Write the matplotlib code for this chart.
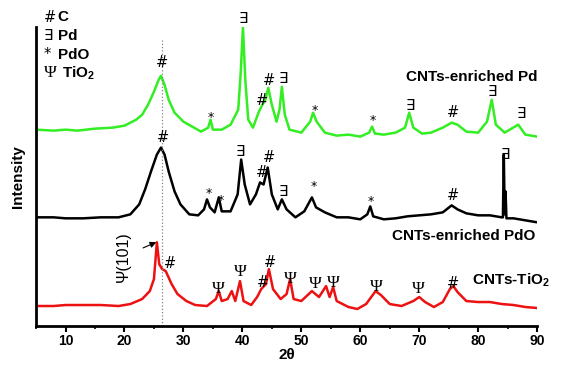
import numpy as np
import matplotlib
matplotlib.use('Agg')
import matplotlib.pyplot as plt

plt.rcParams['font.family'] = ['Liberation Sans', 'DejaVu Sans']
plt.rcParams['mathtext.fontset'] = 'custom'
plt.rcParams['mathtext.rm'] = 'Liberation Sans'
plt.rcParams['mathtext.bf'] = 'Liberation Sans:bold'

# XRD traces (2theta, stacked intensity in a.u.)
pd_x = [5, 8, 10, 12, 15, 18, 20, 22, 23, 24, 25, 25.8, 26.2, 26.8, 27.5, 28.5, 30, 31.5,
        33, 34.2, 34.6, 35, 36.5, 38, 39.3, 39.7, 40.1, 40.5, 41, 41.8, 42.8, 43.4, 43.9,
        44.4, 45, 45.8, 46.3, 46.7, 47.2, 48, 50, 51.5, 52, 52.6, 54, 56, 58, 60, 61.5, 62,
        62.5, 64, 66, 67.6, 68.3, 69, 70.5, 72, 74, 75.5, 76.5, 78, 80, 81.5, 82.3, 83,
        84.5, 86.8, 88, 90]
pd_y = [197, 196, 197, 196, 198, 199, 201, 207, 212, 222, 235, 247, 251, 242, 227, 214, 205,
        200, 195, 199, 207, 197, 197, 202, 217, 252, 300, 247, 207, 199, 215, 222, 227, 239,
        222, 205, 217, 240, 212, 197, 194, 205, 214, 205, 194, 191, 192, 190, 194, 200, 193,
        192, 194, 199, 214, 199, 193, 194, 199, 204, 202, 195, 194, 205, 227, 202, 194, 202,
        192, 190]

pdo_x = [5, 8, 10, 13, 16, 19, 21, 22.5, 23.5, 24.5, 25.5, 26.2, 26.8, 27.5, 28.5, 29.5, 31,
         32.5, 33.5, 34, 34.5, 35.3, 36, 36.5, 38, 39.2, 39.8, 40.4, 41.3, 42.3, 43, 43.6,
         44.3, 45, 46, 46.7, 47.5, 49, 50.5, 51.8, 52.5, 54, 56, 58, 60, 61.2, 61.7, 62.2,
         64, 66, 68, 70, 72, 74, 75.5, 76.5, 78, 80, 82, 84, 84.2, 84.35, 84.5, 84.65, 84.8,
         86, 88, 90]
pdo_y = [109, 109, 108, 108, 109, 109, 112, 122, 137, 155, 172, 179, 172, 155, 135, 122, 112,
         111, 117, 127, 119, 114, 129, 115, 115, 132, 167, 142, 122, 132, 144, 142, 159, 132,
         117, 127, 117, 109, 115, 129, 119, 114, 109, 109, 107, 112, 120, 110, 107, 108, 110,
         111, 112, 114, 121, 117, 113, 111, 111, 109, 109, 172, 112, 135, 108, 108, 106, 104]

ti_x = [5, 8, 10, 13, 16, 19, 21, 23, 24.3, 25, 25.5, 25.9, 26.4, 27, 28, 29, 30.5, 32, 34,
        35.5, 36, 36.5, 37.5, 38.2, 38.8, 39.6, 40.2, 41.5, 42.5, 43.2, 44, 44.5, 45.2, 46.5,
        47.5, 48.1, 48.7, 50, 51.8, 53, 54.2, 54.8, 55.4, 56, 58, 59.5, 61, 62.6, 63.5, 65,
        67, 69, 70, 71, 72.5, 74, 75.2, 75.8, 76.5, 78, 80, 82, 84, 86, 88, 90]
ti_y = [20, 20, 21, 21, 21, 20, 22, 27, 35, 47, 84, 62, 57, 55, 42, 32, 25, 21, 20, 27, 35, 25,
        27, 35, 25, 45, 25, 21, 29, 37, 42, 57, 37, 27, 32, 47, 27, 25, 35, 29, 40, 29, 39, 25,
        19, 17, 22, 35, 31, 22, 20, 25, 29, 24, 19, 24, 37, 40, 34, 25, 24, 24, 22, 21, 19, 18]

# phase markers: (symbol, 2theta, height)
pd_marks = [('#', 26.3, 264), ('∃', 40.2, 309), ('#', 43.3, 226), ('#', 44.6, 246),
            ('∃', 47.0, 248), ('*', 34.6, 209), ('*', 52.3, 216), ('*', 62.1, 206),
            ('∃', 68.5, 221), ('#', 75.8, 214), ('∃', 82.4, 235), ('∃', 87.3, 213)]
pdo_marks = [('#', 26.5, 189), ('∃', 39.7, 175), ('#', 43.3, 154), ('#', 44.6, 169),
             ('∃', 47.0, 135), ('*', 34.3, 133), ('*', 36.3, 126), ('*', 52.2, 140),
             ('*', 61.8, 125), ('#', 75.8, 131), ('∃', 84.6, 172)]
ti_marks = [('#', 27.8, 63), ('Ψ', 35.9, 37), ('Ψ', 39.7, 54), ('#', 43.5, 44),
            ('#', 44.7, 64), ('Ψ', 48.2, 47), ('Ψ', 52.3, 42), ('Ψ', 55.5, 43),
            ('Ψ', 62.8, 39), ('Ψ', 69.8, 37), ('#', 75.7, 43)]

legend_syms = ['#', '∃', '*', 'Ψ']
legend_names = ['C', 'Pd', 'PdO', r'TiO$_\mathbf{2}$']
legend_y = [310, 291, 272, 254]

fig = plt.figure(figsize=(5.63, 3.65), dpi=100)
ax = fig.add_axes([0.064, 0.107, 0.89, 0.819])

ax.plot(pd_x, pd_y, color='#33ee22', lw=1.8)
ax.plot(pdo_x, pdo_y, color='black', lw=1.8)
ax.plot(ti_x, ti_y, color='#ee1111', lw=1.8)

ax.axvline(26.3, ymin=0, ymax=0.955, color='gray', ls=':', lw=0.9)


def sym_font(s):
    if s == 'Ψ':
        return ['Liberation Serif', 'DejaVu Serif']
    return ['DejaVu Sans']


def sym_size(s):
    if s == '*':
        return 9
    if s == 'Ψ':
        return 12.5
    return 10.5


for marks in (pd_marks, pdo_marks, ti_marks):
    for s, x, y in marks:
        ax.text(x, y, s, ha='center', va='center', fontsize=sym_size(s),
                family=sym_font(s), clip_on=False)

for s, name, y in zip(legend_syms, legend_names, legend_y):
    ax.text(6.3, y, s, ha='left', va='center',
            fontsize=12.5 if s == 'Ψ' else 10.5,
            family=sym_font(s), clip_on=False)
    ax.text(9.4 if s == 'Ψ' else 8.7, y, name, ha='left', va='center',
            fontsize=11, fontweight='bold', clip_on=False)

ax.text(78.9, 250, 'CNTs-enriched Pd', ha='center', va='center',
        fontsize=11, fontweight='bold')
ax.text(65.4, 90, 'CNTs-enriched PdO', ha='left', va='center',
        fontsize=11, fontweight='bold', clip_on=False)
ax.text(79.0, 46, r'CNTs-TiO$_\mathbf{2}$', ha='left', va='center',
        fontsize=11, fontweight='bold', clip_on=False)

ax.annotate('Ψ(101)', xy=(25.4, 84), xytext=(19.9, 70), rotation=90,
            ha='center', va='center', fontsize=11.5,
            arrowprops=dict(arrowstyle='-|>', color='black', lw=0.8,
                            shrinkA=7, shrinkB=0, mutation_scale=9))

ax.set_xlim(5, 90)
ax.set_ylim(0, 300)
ax.set_xticks(np.arange(10, 91, 10))
ax.set_xticks(np.arange(5, 91, 5), minor=True)
ax.set_yticks([])
for lab in ax.get_xticklabels():
    lab.set_fontweight('bold')
ax.tick_params(axis='x', which='major', direction='out', length=4, width=1.5,
               labelsize=10, pad=2)
ax.tick_params(axis='x', which='minor', direction='out', length=2, width=1.2)
for side in ('top', 'right'):
    ax.spines[side].set_visible(False)
ax.spines['left'].set_linewidth(2)
ax.spines['bottom'].set_linewidth(2)

ax.set_xlabel('2θ', fontsize=11, fontweight='bold', labelpad=0)
ax.set_ylabel('Intensity', fontsize=11, fontweight='bold', labelpad=8)

fig.savefig('out.png', dpi=100)
